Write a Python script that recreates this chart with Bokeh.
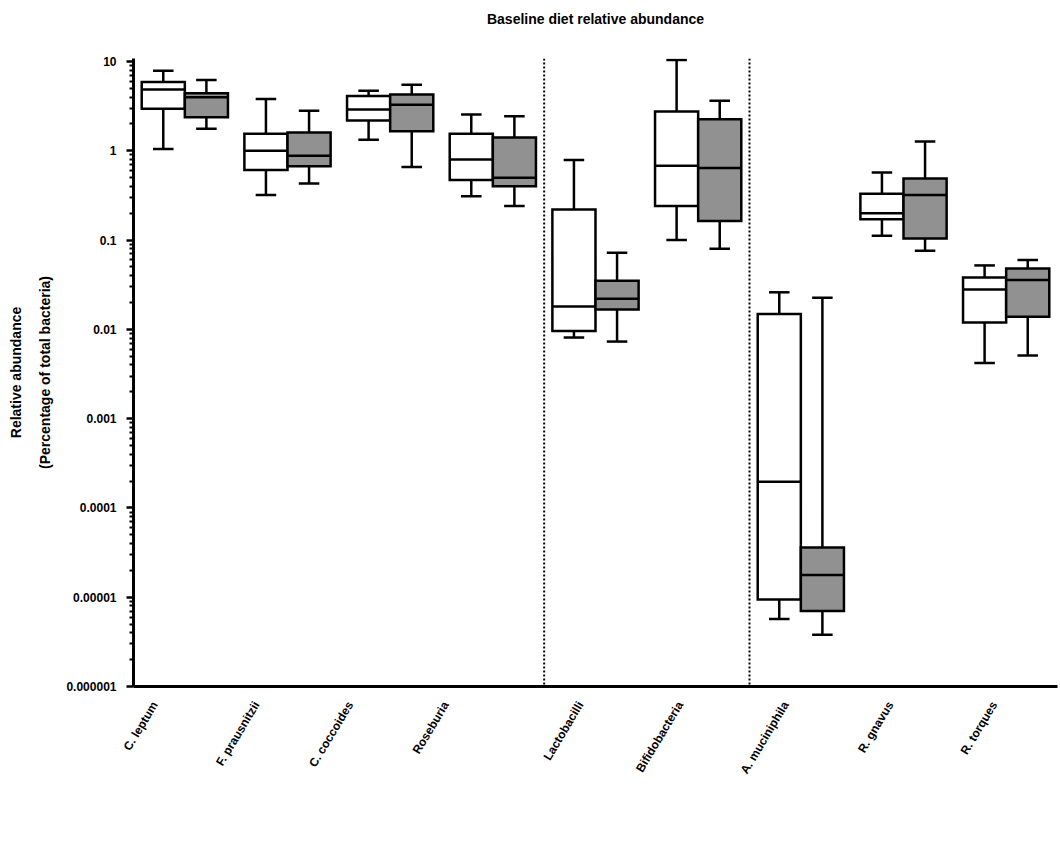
import math
from bokeh.plotting import figure
from bokeh.models import (ColumnDataSource, Span, LinearAxis, FixedTicker, CanvasTexture, Range1d)
from bokeh.transform import dodge
from bokeh.core.properties import value
from bokeh.embed import file_html
from bokeh.resources import INLINE

# ---------------- data ----------------
categories = ["C. leptum", "F. prausnitzii", "C. coccoides", "Roseburia", "Lactobacilli",
              "Bifidobacteria", "A. muciniphila", "R. gnavus", "R. torques"]
group_sizes = [4, 2, 3]          # blocks separated by dotted lines

# series 1 (open boxes): whisker max, Q3, median, Q1, whisker min
s1_max = [7.9, 3.8, 4.7, 2.55, 0.79, 10.4, 0.026, 0.57, 0.052]
s1_q3 = [5.9, 1.55, 4.1, 1.55, 0.22, 2.75, 0.0149, 0.33, 0.038]
s1_med = [4.86, 1.0, 2.9, 0.8, 0.018, 0.68, 0.000196, 0.20, 0.028]
s1_q1 = [2.95, 0.61, 2.18, 0.47, 0.0096, 0.24, 9.4e-6, 0.171, 0.0119]
s1_min = [1.05, 0.32, 1.33, 0.31, 0.0081, 0.10, 5.7e-6, 0.112, 0.0042]

# series 2 (checkered boxes)
s2_max = [6.2, 2.8, 5.5, 2.44, 0.072, 3.63, 0.0226, 1.27, 0.060]
s2_q3 = [4.4, 1.6, 4.27, 1.41, 0.035, 2.26, 3.6e-5, 0.49, 0.048]
s2_med = [3.98, 0.88, 3.27, 0.50, 0.022, 0.64, 1.77e-5, 0.32, 0.0356]
s2_q1 = [2.38, 0.67, 1.66, 0.40, 0.0167, 0.164, 7.0e-6, 0.104, 0.0138]
s2_min = [1.76, 0.43, 0.66, 0.24, 0.0073, 0.080, 3.8e-6, 0.076, 0.0051]

y_ticks = [1e-6, 1e-5, 1e-4, 1e-3, 1e-2, 1e-1, 1, 10]
y_tick_labels = ["0.000001", "0.00001", "0.0001", "0.001", "0.01", "0.1", "1", "10"]
y_minor = [m * t for t in y_ticks[:-1] for m in range(2, 10)]

title_text = "Baseline diet relative abundance"
y_label = "Relative abundance\n(Percentage of total bacteria)"

# ---------------- layout / style ----------------
W, H = 1060, 841
BL, BR, BT, BB = 133, 3, 58, 155
TOP_PAD_PX = 3                      # axis line runs a little past the top tick
label_dx_px = [-30, -31, -40, -47, -15, -18, -15, -13, -12]   # label end shift (px)
FONT = "Liberation Sans"
BOX_W = 0.42
CAP_W = 0.2
LW = 2.5

n = len(categories)
xs = [i + 0.5 for i in range(n)]
unit_px = (W - BL - BR) / n
label_ticks = [x + d / unit_px for x, d in zip(xs, label_dx_px)]

n_dec = math.log10(y_ticks[-1] / y_ticks[0])
decade_px = (H - BT - BB - TOP_PAD_PX) / n_dec
y_end = y_ticks[-1] * 10 ** (TOP_PAD_PX / decade_px)

p = figure(x_range=Range1d(0, n), y_axis_type="log", y_range=(y_ticks[0], y_end),
           width=W, height=H, output_backend="svg", toolbar_location=None,
           x_axis_location=None, title=None,
           min_border_left=BL, min_border_right=BR, min_border_top=BT, min_border_bottom=BB)
p.xgrid.visible = False
p.ygrid.visible = False
p.outline_line_color = None
p.background_fill_color = "white"
p.border_fill_color = "white"

checker = CanvasTexture(code="""
ctx.fillStyle = color;
const h = scale / 2;
ctx.fillRect(0, 0, h, h);
ctx.fillRect(h, h, h, h);
""")

def draw_series(vmax, q3, med, q1, vmin, offset, checkered):
    src = ColumnDataSource(dict(x=xs, vmax=vmax, q3=q3, med=med, q1=q1, vmin=vmin))
    xc = dodge("x", offset)
    xl = dodge("x", offset - BOX_W / 2)
    xr = dodge("x", offset + BOX_W / 2)
    cl = dodge("x", offset - CAP_W / 2)
    cr = dodge("x", offset + CAP_W / 2)
    p.segment(x0=xc, x1=xc, y0="q3", y1="vmax", source=src, line_color="black", line_width=LW)
    p.segment(x0=xc, x1=xc, y0="vmin", y1="q1", source=src, line_color="black", line_width=LW)
    p.segment(x0=cl, x1=cr, y0="vmax", y1="vmax", source=src, line_color="black", line_width=LW)
    p.segment(x0=cl, x1=cr, y0="vmin", y1="vmin", source=src, line_color="black", line_width=LW)
    kw = dict(fill_color="white", line_color="black", line_width=LW, line_join="miter")
    if checkered:
        kw.update(hatch_pattern=value("checker"), hatch_extra={"checker": checker},
                  hatch_color="black", hatch_scale=4)
    p.vbar(x=xc, top="q3", bottom="q1", width=BOX_W, source=src, **kw)
    p.segment(x0=xl, x1=xr, y0="med", y1="med", source=src, line_color="black", line_width=LW)

draw_series(s1_max, s1_q3, s1_med, s1_q1, s1_min, -BOX_W / 2, False)
draw_series(s2_max, s2_q3, s2_med, s2_q1, s2_min, BOX_W / 2, True)

# dotted separators between category blocks
pos = 0
for g in group_sizes[:-1]:
    pos += g
    p.add_layout(Span(location=pos, dimension="height", line_color="black",
                      line_width=2, line_dash="2 2"))

# y axis
ya = p.yaxis[0]
ya.ticker = FixedTicker(ticks=y_ticks, minor_ticks=y_minor)
ya.major_label_overrides = {t: l for t, l in zip(y_ticks, y_tick_labels)}
ya.axis_line_width = 3
ya.axis_line_color = "black"
ya.major_tick_line_width = 2.5
ya.major_tick_out = 7
ya.major_tick_in = 0
ya.minor_tick_line_width = 2
ya.minor_tick_out = 4
ya.minor_tick_in = 0
ya.major_label_text_font = FONT
ya.major_label_text_font_style = "bold"
ya.major_label_text_font_size = "12px"
ya.major_label_text_color = "black"
ya.major_label_standoff = 10
ya.axis_label = y_label
ya.axis_label_text_font = FONT
ya.axis_label_text_font_style = "bold"
ya.axis_label_text_font_size = "14px"
ya.axis_label_text_color = "black"
ya.axis_label_text_line_height = 1.85
ya.axis_label_standoff = 10

# bottom axis: line + rotated category labels
xa = LinearAxis(ticker=FixedTicker(ticks=label_ticks),
                major_label_overrides={t: c for t, c in zip(label_ticks, categories)},
                axis_line_width=3, axis_line_color="black",
                major_tick_line_color=None, minor_tick_line_color=None,
                major_tick_out=0, major_tick_in=0,
                major_label_orientation=math.radians(59),
                major_label_standoff=16,
                major_label_text_font=FONT, major_label_text_font_style="bold",
                major_label_text_font_size="12px", major_label_text_color="black")
p.add_layout(xa, "below")

# title, carried by an otherwise empty top axis so it can sit high above the frame
ta = LinearAxis(ticker=FixedTicker(ticks=[]), axis_line_color=None,
                major_tick_line_color=None, minor_tick_line_color=None,
                major_tick_out=0, major_tick_in=0,
                axis_label=title_text, axis_label_standoff=32,
                axis_label_text_font=FONT, axis_label_text_font_style="bold",
                axis_label_text_font_size="14px", axis_label_text_color="black")
p.add_layout(ta, "above")

open("out.html", "w").write(file_html(p, INLINE))
